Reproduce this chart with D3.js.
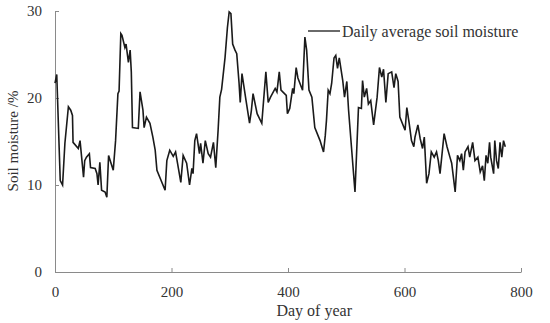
<!DOCTYPE html>
<html>
<head>
<meta charset="utf-8">
<script src="https://cdn.jsdelivr.net/npm/d3@7"></script>
<style>
  body { margin: 0; background: #fff; }
  svg text { font-family: "Liberation Serif", "Times New Roman", serif; fill: #333; }
</style>
</head>
<body>
<div id="chart"></div>
<script>
// Data (day of year, soil moisture %)
const days = [0, 3, 9, 13, 17, 23, 27, 30, 31, 40, 43, 49, 51, 54, 59, 61, 69, 72, 74, 77, 80, 86, 89, 92, 100,
  104, 108, 110, 113, 115, 120, 122, 126, 129, 131, 133, 143, 146, 151, 153, 157, 163, 168, 172, 175, 189, 192,
  197, 203, 207, 216, 220, 226, 231, 235, 237, 240, 243, 248, 250, 254, 258, 263, 267, 272, 276, 280, 283, 286,
  292, 296, 299, 302, 305, 309, 312, 316, 318, 321, 328, 334, 337, 340, 347, 355, 362, 366, 370, 378, 381, 385,
  388, 397, 399, 403, 408, 410, 414, 417, 425, 429, 432, 436, 441, 446, 455, 461, 464, 466, 469, 472, 475, 479,
  482, 485, 488, 494, 497, 501, 504, 515, 521, 526, 528, 531, 535, 538, 542, 547, 553, 557, 561, 564, 568, 572,
  578, 582, 585, 589, 592, 601, 604, 608, 612, 616, 618, 623, 627, 631, 634, 638, 642, 646, 651, 655, 658, 661,
  668, 673, 678, 681, 687, 691, 695, 698, 701, 704, 709, 712, 717, 721, 726, 730, 734, 737, 740, 743, 746, 748,
  753, 755, 758, 761, 764, 767, 770, 773];
const moisture = [21.7, 22.7, 10.5, 10, 14.8, 19, 18.6, 18, 14.9, 14.2, 15.1, 10.9, 12.8, 13.2, 13.6, 12, 11.9, 11.3, 10, 12.6, 9.4, 9.2, 8.6, 13.4, 11.7,
  15.1, 20.5, 20.8, 27.4, 27.2, 25.8, 26.2, 24.1, 25.5, 23, 16.6, 16.5, 20.7, 18.6, 16.6, 17.8, 17.1, 15.5, 14, 11.7, 9.4, 12.8,
  14, 13.3, 13.8, 10.3, 13.4, 12.5, 10, 11.9, 11.3, 15.1, 15.9, 13.6, 14.8, 12.5, 15.1, 13.6, 13.2, 14.9, 12, 16.3, 20.1, 21,
  24.7, 28.1, 29.9, 29.7, 26.2, 25.5, 25.1, 21.7, 19.5, 22.8, 19.7, 17.1, 18.5, 20.5, 18.2, 17.1, 23, 19.5, 20.1, 21.1, 20.7, 23,
  20.9, 20.3, 18.2, 18.8, 21.1, 20.5, 23.5, 22.3, 20.9, 27, 25.5, 20.9, 20.1, 16.6, 15.1, 13.8, 15.7, 17.4, 20.9, 20.5, 21.7, 24.6,
  24.9, 23.4, 24.6, 22, 20.1, 21.9, 18.6, 9.2, 18.9, 18.8, 22, 20.1, 21.1, 19.3, 19.7, 16.9, 20.1, 23.5, 22.4, 23.3, 19.5, 22.8,
  23, 21.2, 22.8, 21.9, 17.8, 16.3, 18.9, 17.1, 15.1, 14.4, 15.5, 16.9, 15.3, 14.2, 15.5, 10.2, 11.3, 13.8, 13.2, 13.8, 12.8, 11.3,
  15.9, 14.4, 13.2, 12.5, 9.2, 13.4, 12.8, 13.6, 11.7, 13.8, 14.4, 13.2, 14.9, 12.8, 13.2, 11.5, 12.2, 10.5, 13.4, 12.5, 14.9, 13.2,
  11.3, 15.1, 12.8, 11.9, 14.9, 13.2, 15.1, 14.4];

const xTicks = [0, 200, 400, 600, 800];
const yTicks = [0, 10, 20, 30];
const seriesName = "Daily average soil moisture";
const xTitle = "Day of year";
const yTitle = "Soil moisture /%";

// Chart dimensions
const W = 550, H = 323;
const margin = { top: 11, right: 29, bottom: 51, left: 55 };
const width = W - margin.left - margin.right;
const height = H - margin.top - margin.bottom;

const svg = d3.select("#chart").append("svg")
  .attr("width", W)
  .attr("height", H);

const g = svg.append("g")
  .attr("transform", "translate(" + margin.left + "," + margin.top + ")");

const xScale = d3.scaleLinear().domain([0, 800]).range([0, width]);
const yScale = d3.scaleLinear().domain([0, 30]).range([height, 0]);

// Axes, ticks pointing inward
const xAxis = d3.axisBottom(xScale).tickValues(xTicks).tickSizeInner(-4).tickSizeOuter(0).tickPadding(14);
const yAxis = d3.axisLeft(yScale).tickValues(yTicks).tickSizeInner(-4).tickSizeOuter(0).tickPadding(13);

const gx = g.append("g")
  .attr("transform", "translate(0," + height + ")")
  .call(xAxis);
const gy = g.append("g").call(yAxis);

[gx, gy].forEach(a => {
  a.selectAll("path, line").attr("stroke", "#8a8a8a");
  a.selectAll("text").style("font-size", "15px").attr("fill", "#333");
});

// The line
const series = days.map((d, i) => ({ day: d, value: moisture[i] }));
const line = d3.line()
  .x(d => xScale(d.day))
  .y(d => yScale(d.value));

g.append("path")
  .datum(series)
  .attr("fill", "none")
  .attr("stroke", "#1a1a1a")
  .attr("stroke-width", 1.6)
  .attr("d", line);

// Axis titles
svg.append("text")
  .attr("x", margin.left + xScale(445))
  .attr("y", 316)
  .attr("text-anchor", "middle")
  .style("font-size", "16px")
  .text(xTitle);

svg.append("text")
  .attr("transform", "translate(18," + 141 + ") rotate(-90)")
  .attr("text-anchor", "middle")
  .style("font-size", "15px")
  .text(yTitle);

// Legend
const legend = svg.append("g").attr("transform", "translate(308,31)");
legend.append("line")
  .attr("x1", 0).attr("x2", 32)
  .attr("stroke", "#1a1a1a")
  .attr("stroke-width", 1.3);
legend.append("text")
  .attr("x", 34)
  .attr("y", 6)
  .style("font-size", "16px")
  .text(seriesName);
</script>
</body>
</html>
